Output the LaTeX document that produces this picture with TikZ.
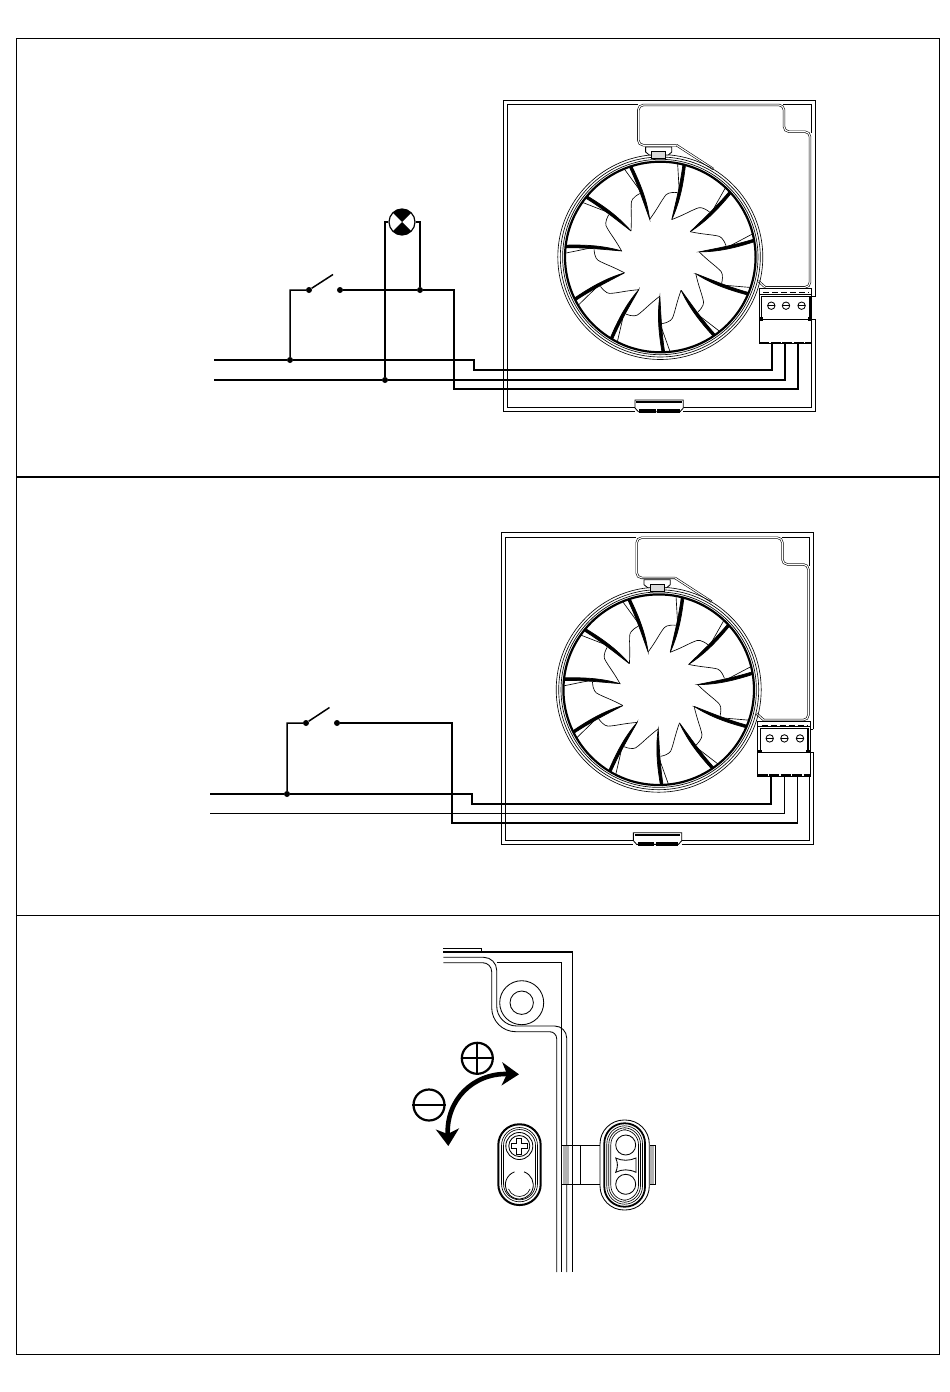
\documentclass[tikz,border=0pt]{standalone}
\usetikzlibrary{arrows.meta}
\tikzset{
  fanunit/.pic={
    \draw [thin line] (311.7,196.7) -- (311.7,0) -- (0,0) -- (0,311.7) -- (131.7,311.7);
    \draw [thin line] (180,311.7) -- (311.7,311.7) -- (311.7,219.3) -- (308.3,219.3);
    \draw [thin line] (308.3,196.7) -- (311.7,196.7);
    \draw [thin line] (134.3,4.3) -- (4,4.3) -- (4,307.7) -- (131.7,307.7);
    \draw [thin line] (180,307.7) -- (307.7,307.7) -- (307.7,243.3);
    \draw [thin line] (280,4.3) -- (307.7,4.3) -- (307.7,33);
    \draw [double line, rounded corners=5pt] (173.3,45.2) -- (135,45.2) -- (135,5) -- (280.7,5) -- (280.7,31.7) -- (306.7,31.7) -- (306.7,187.3) -- (262,187.3);
    \draw [double line] (173.3,45.2) -- (210,69);
    \draw [double line] (262,187.3) -- (255,181);
    \begin{scope}[shift={(157,157)}]
      \draw [fine line] (0,0) circle (102.5);
      \draw [fine line] (0,0) circle (100);
      \draw [fine line] (0,0) circle (97.7);
      \draw [line width=2.2pt] (0,0) circle (95.3);
      \foreach \i in {0,...,10} {
        \begin{scope}[rotate=-\i*32.727]
          \filldraw [line width=.7pt] (11.5,-37.5) .. controls (19.5,-55) and (22.8,-72) .. (25.2,-92) -- (22.6,-92.5) .. controls (20,-72) and (15.5,-55) .. cycle;
          \draw [fine line] (-10.6,-37.7) .. controls (-3,-48) and (1,-56) .. (4,-60) .. controls (6,-63.5) and (9,-65) .. (17,-64.5);
          \draw [fine line] (17.3,-94) -- (18.8,-68);
        \end{scope}
      }
    \end{scope}
    \draw [thin line, fill=white] (142.3,47) -- (168.5,47) -- (168.5,52) -- (165,55) -- (146,55) -- (142.3,52) -- cycle;
    \draw [thin line, fill=black!15] (148.3,51.7) rectangle (162.3,58.5);
    \draw [thin line, fill=white] (131.7,300) -- (180,300) -- (180,308) -- (176.7,311.7) -- (135,311.7) -- (131.7,308) -- cycle;
    \draw [line width=1.8pt] (133,302.2) -- (178.5,302.2);
    \fill (136,308.8) rectangle (152.7,313.3);
    \fill (154,308.8) rectangle (176.7,313.3);
    \draw [thin line, fill=white] (256,188.3) rectangle (308.3,243.3);
    \draw [thin line] (256,194) -- (308.3,194);
    \draw [line width=1pt] (258.3,196) rectangle (306.5,219.3);
    \draw [line width=1.6pt] (306.5,196) -- (306.5,219.3);
    \draw [line width=1.2pt, dash pattern=on 6pt off 3pt] (260,192.5) -- (306,192.5);
    \fill (256.5,217) rectangle (260,220.5);
    \fill (304.5,217) rectangle (308,220.5);
    \foreach \sx in {268,282.7,298.3} {
      \draw [thin line] (\sx,205.7) circle (3.7);
      \draw [thin line] (\sx-3.7,205.7) -- (\sx+3.7,205.7);
    }
    \draw [line width=1.6pt, dash pattern=on 10pt off 1.5pt] (256,242.5) -- (308.3,242.5);
  }
}
\begin{document}
\begin{tikzpicture}[x=1pt,y=-1pt,
    wire/.style={line width=1.5pt},
    thin line/.style={line width=.85pt},
    fine line/.style={line width=.65pt},
    double line/.style={line width=.6pt,double,double distance=1.1pt},
    dot/.style={circle,fill,inner sep=0pt,minimum size=6pt},
    lamp/.style={circle,draw,line width=1.2pt,inner sep=0pt,minimum size=26pt,
      path picture={\fill (path picture bounding box.north west) -- (path picture bounding box.north east) -- (path picture bounding box.south west) -- (path picture bounding box.south east) -- cycle;}},
    sign/.style={circle,draw,line width=2.2pt,inner sep=0pt,minimum size=31pt}]
  \useasboundingbox (0,0) rectangle (950,1392);
  \draw [line width=1pt] (16.5,38.5) rectangle (939,1354);
  \draw [line width=1.2pt] (16.5,477) -- (939,477);
  \draw [line width=1pt] (16.5,915) -- (939,915);

  \pic at (503.3,100) {fanunit};
  \node [dot](1) at (290,360) {};
  \node [dot](2) at (385,380) {};
  \node [dot](3) at (420,290) {};
  \node [dot](4) at (309,290) {};
  \node [dot](5) at (340,290) {};
  \node [lamp](6) at (402,222) {};
  \coordinate (in1) at (214,360);
  \coordinate (in2) at (214,380);
  \coordinate (k1) at (474,360);
  \coordinate (k2) at (474,370);
  \coordinate (c1) at (454,290);
  \coordinate (c2) at (454,389);
  \coordinate (b1) at (333,274.5);
  \coordinate (t1) at (772,343);
  \coordinate (t2) at (785,343);
  \coordinate (t3) at (798,343);
  \draw [wire] (in1) -- (1) -- (k1) -- (k2) -| (t1);
  \draw [wire] (in2) -- (2) -| (t2);
  \draw [wire] (1) |- (4) -- (b1);
  \draw [wire] (5) -- (3) -- (c1) -- (c2) -| (t3);
  \draw [line width=1.2pt] (2) |- (6.west);
  \draw [line width=1.2pt] (3) |- (6.east);

  \pic at (501.7,532.7) {fanunit};
  \node [dot](7) at (287,794) {};
  \node [dot](8) at (306,723) {};
  \node [dot](9) at (337,723) {};
  \coordinate (in3) at (210,794);
  \coordinate (in4) at (210,813.5);
  \coordinate (k3) at (472,794);
  \coordinate (k4) at (472,804);
  \coordinate (c3) at (452,723);
  \coordinate (c4) at (452,823);
  \coordinate (b2) at (329.5,707.5);
  \coordinate (t4) at (771,776);
  \coordinate (t5) at (784.3,776);
  \coordinate (t6) at (797.3,776);
  \draw [wire] (in3) -- (7) -- (k3) -- (k4) -| (t4);
  \draw [line width=1.2pt] (in4) -| (t5);
  \draw [wire] (7) |- (8) -- (b2);
  \draw [wire] (9) -- (c3) -- (c4) -| (t6);

  \draw [line width=1.1pt] (443.3,952) -- (572.3,952) -- (572.3,1272);
  \draw [thin line] (443.3,948.3) -- (481.7,948.3) -- (481.7,952);
  \draw [thin line] (496.7,962.3) -- (561.7,962.3) -- (561.7,1272);
  \draw [thin line] (521.7,1002.7) circle (11.7);
  \draw [thin line] (521.7,1002.7) circle (22);
  \draw [thin line] (443.3,962.7) [rounded corners=9pt] -- (491.7,962.7) [rounded corners=24pt] -- (491.7,1031.7) [rounded corners=7pt] -- (556.7,1031.7) [sharp corners] -- (556.7,1272);
  \draw [thin line] (443.3,957.3) [rounded corners=13pt] -- (496.7,957.3) [rounded corners=20pt] -- (496.7,1026) [rounded corners=12pt] -- (566.7,1026) [sharp corners] -- (566.7,1272);

  \node [sign](10) at (477.3,1058.3) {};
  \draw [line width=2pt] (10.west) -- (10.east);
  \draw [line width=2pt] (10.north) -- (10.south);
  \node [sign](11) at (429,1105) {};
  \draw [line width=2.2pt] (11.west) -- (11.east);
  \coordinate (a1) at (448.3,1146);
  \coordinate (a2) at (519,1074.3);
  \draw [{Stealth[length=17pt,width=23pt,inset=5pt]}-{Stealth[length=17pt,width=23pt,inset=5pt]}, line width=4.6pt] (a1) .. controls (446,1100) and (473,1073) .. (a2);

  \draw [line width=2pt, rounded corners=20.8pt] (498.3,1124.3) rectangle (540.7,1205);
  \draw [fine line, rounded corners=18pt] (501.5,1127.5) rectangle (537.5,1201.8);
  \draw [fine line, rounded corners=16pt] (503.5,1129.5) rectangle (535.5,1199.8);
  \draw [thin line] (519.3,1146) circle (13.5);
  \draw [thin line] (519.3,1146) circle (10.5);
  \draw [line width=.9pt] (516.8,1138) -- (521.8,1138) -- (521.8,1143.5) -- (527.3,1143.5) -- (527.3,1148.5) -- (521.8,1148.5) -- (521.8,1154) -- (516.8,1154) -- (516.8,1148.5) -- (511.3,1148.5) -- (511.3,1143.5) -- (516.8,1143.5) -- cycle;
  \draw [thin line] (519.3,1185) ++(290:14) arc (290:610:14);
  \draw [fine line] (519.3,1185) ++(20:11.5) arc (20:160:11.5);

  \fill [black!30] (563,1146) rectangle (569,1184);
  \draw [thin line] (600,1145) -- (561.7,1145) -- (561.7,1184.3) -- (600,1184.3);
  \draw [fine line] (580.7,1145) -- (580.7,1184.3);
  \fill [black!30] (650,1146) rectangle (654,1184);
  \draw [thin line] (650,1145) -- (655.7,1145) -- (655.7,1184.3) -- (650,1184.3);
  \draw [thin line, fill=white, rounded corners=24pt] (600,1120) rectangle (649.3,1210);
  \draw [line width=1.8pt, rounded corners=20pt] (604.3,1123.3) rectangle (645,1206.7);
  \draw [fine line, rounded corners=18pt] (606.8,1125.8) rectangle (642.5,1204.2);
  \draw [fine line, rounded corners=16.5pt] (608.8,1127.8) rectangle (640.5,1202.2);
  \draw [fine line, rounded corners=15pt] (610.8,1129.8) rectangle (638.5,1200.2);
  \draw [thin line] (625.7,1145) circle (10);
  \draw [thin line] (625.7,1184.3) circle (10);
  \draw [thin line] (615.7,1158) .. controls (622,1161) and (629,1161) .. (636,1158) -- (636,1172.3) .. controls (629,1169) and (622,1169) .. (615.7,1172.3) .. controls (618,1167) and (618,1163) .. cycle;
\end{tikzpicture}
\end{document}
